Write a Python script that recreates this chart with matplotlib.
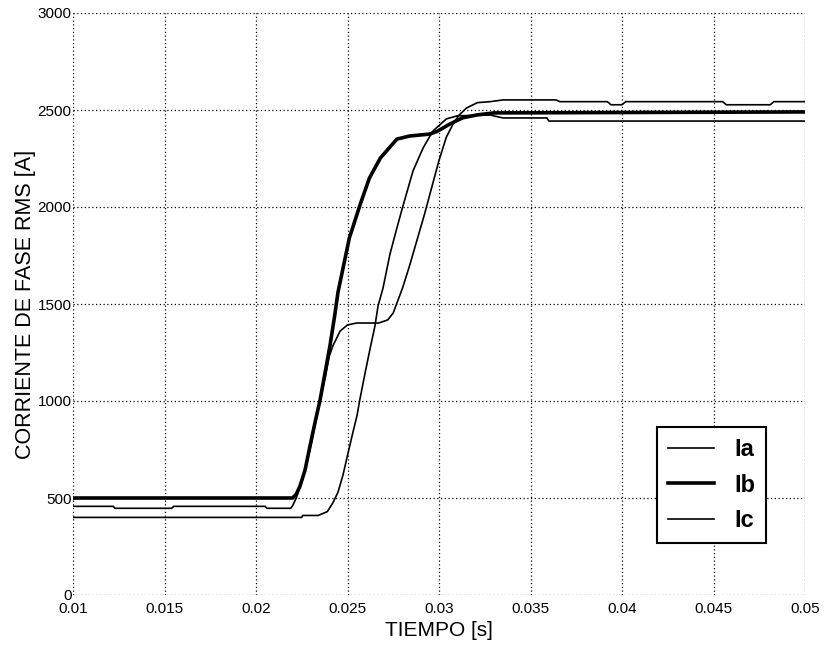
import matplotlib
matplotlib.use("Agg")
import matplotlib.pyplot as plt

plt.rcParams['font.family'] = ['Liberation Sans', 'DejaVu Sans']

# Ia: starts ~457 A, shoulder at ~1400 A, ends on top
t_a = [0.01, 0.0122, 0.0123, 0.0154, 0.0155, 0.0205, 0.0206, 0.0219, 0.0220, 0.0222,
       0.02245, 0.0227, 0.0230, 0.02325, 0.0235, 0.0238, 0.0240, 0.0242, 0.0246, 0.0250,
       0.0255, 0.0267, 0.0272, 0.0275, 0.0277, 0.0280, 0.0284, 0.0288, 0.0292, 0.0296,
       0.0300, 0.0304, 0.0308, 0.0311, 0.0315, 0.0321, 0.0328, 0.0335, 0.0364, 0.0366,
       0.0392, 0.0394, 0.0400, 0.0402, 0.0455, 0.0457, 0.0481, 0.0483, 0.05]
i_a = [457, 457, 447, 447, 457, 457, 447, 447, 460, 500,
       570, 650, 770, 890, 1000, 1130, 1230, 1284, 1361, 1392,
       1402, 1402, 1418, 1454, 1505, 1580, 1700, 1830, 1960, 2100,
       2240, 2360, 2433, 2474, 2510, 2538, 2543, 2552, 2552, 2543,
       2543, 2527, 2527, 2543, 2543, 2527, 2527, 2543, 2543]

# Ib: starts at 500 A, plateau ~2370 A, ends in the middle
t_b = [0.01, 0.0220, 0.0222, 0.0224, 0.02268, 0.02295, 0.02322, 0.0235, 0.02377, 0.02404,
       0.0243, 0.02448, 0.0251, 0.0257, 0.0262, 0.0268, 0.0277, 0.0284, 0.0295, 0.0299,
       0.0306, 0.0313, 0.0321, 0.0330, 0.05]
i_b = [500, 500, 520, 560, 644, 768, 887, 1005, 1144, 1284,
       1440, 1560, 1840, 2015, 2150, 2253, 2350, 2366, 2376, 2390,
       2428, 2460, 2475, 2485, 2490]

# Ic: starts at 400 A, rises last, ends at the bottom
t_c = [0.01, 0.0225, 0.02255, 0.0234, 0.0239, 0.0242, 0.02448, 0.02475, 0.0250, 0.0253,
       0.02552, 0.02568, 0.02596, 0.02623, 0.0265, 0.02667, 0.02694, 0.02732, 0.0277, 0.0280,
       0.02858, 0.02913, 0.02967, 0.0304, 0.0310, 0.0328, 0.0335, 0.0359, 0.0360, 0.05]
i_c = [400, 400, 410, 410, 430, 475, 530, 617, 720, 840,
       925, 1010, 1144, 1268, 1387, 1490, 1582, 1757, 1892, 1995,
       2186, 2304, 2392, 2454, 2470, 2474, 2459, 2459, 2443, 2443]

x_ticks = [0.01, 0.015, 0.02, 0.025, 0.03, 0.035, 0.04, 0.045, 0.05]
x_labels = ["0.01", "0.015", "0.02", "0.025", "0.03", "0.035", "0.04", "0.045", "0.05"]
y_ticks = [0, 500, 1000, 1500, 2000, 2500, 3000]

fig = plt.figure(figsize=(8.27, 6.45), dpi=100)
ax = fig.add_axes([73/827, 1 - 595/645, 732/827, 582/645])

ax.plot(t_a, i_a, color="black", lw=1.2, label="Ia")
ax.plot(t_b, i_b, color="black", lw=2.6, label="Ib")
ax.plot(t_c, i_c, color="black", lw=1.2, label="Ic")

ax.set_xlim(0.01, 0.05)
ax.set_ylim(0, 3000)
ax.set_xticks(x_ticks)
ax.set_xticklabels(x_labels)
ax.set_yticks(y_ticks)
ax.tick_params(length=0, labelsize=11)
ax.tick_params(axis="x", pad=5)
ax.tick_params(axis="y", pad=1)
for s in ax.spines.values():
    s.set_visible(False)
ax.grid(True, color="black", linestyle=(0, (1, 2)), linewidth=0.9)
ax.set_axisbelow(True)

ax.set_xlabel("TIEMPO [s]", fontsize=15, labelpad=4)
ax.set_ylabel("CORRIENTE DE FASE RMS [A]", fontsize=15.5, labelpad=1)

leg = ax.legend(loc="lower right", bbox_to_anchor=(0.947, 0.089), borderaxespad=0,
                prop={"size": 17, "weight": "bold"}, fancybox=False, framealpha=1,
                edgecolor="black", handlelength=1.95, handletextpad=0.85,
                labelspacing=0.525, borderpad=0.47)
leg.get_frame().set_linewidth(1.5)

fig.savefig("out.png", dpi=100)
